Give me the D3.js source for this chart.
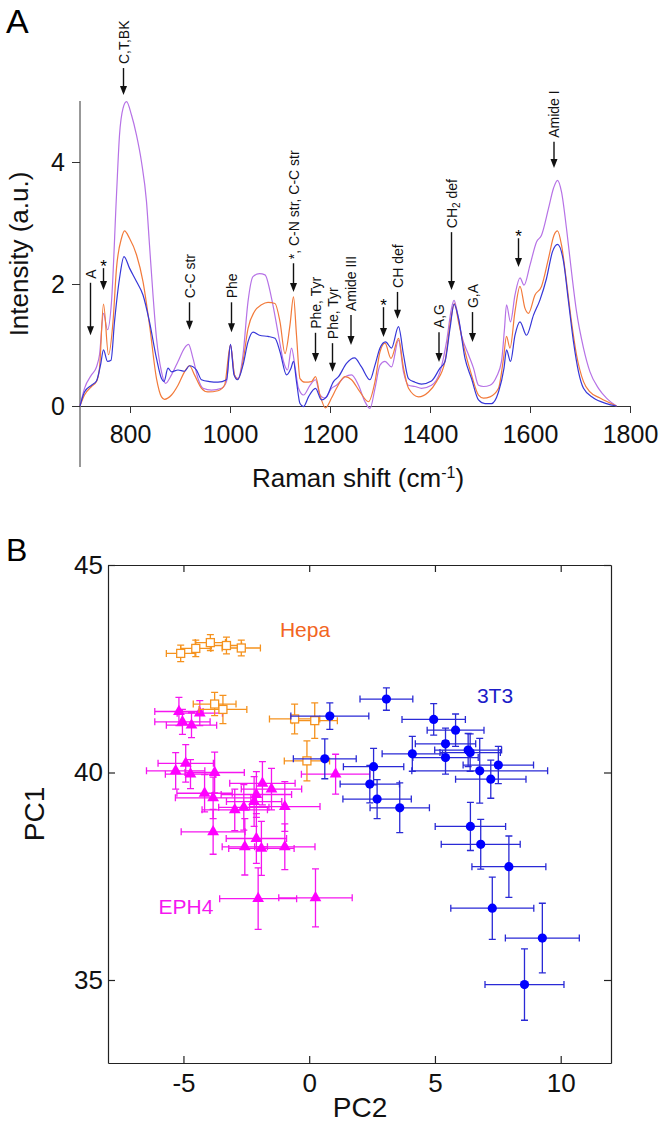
<!DOCTYPE html>
<html><head><meta charset="utf-8">
<script src="https://cdn.jsdelivr.net/npm/d3@7"></script>
<style>body{margin:0;background:#fff}svg{display:block;font-family:"Liberation Sans",Arial,sans-serif}</style>
</head><body><svg id="c" width="661" height="1123"></svg>
<script>
// ---------- Panel A data ----------
const wnPurple = [700,709,723,733,739,747,755,763,773,779,786,793,803,813,823,833,839,846,853,863,871,883,896,909,917,926,936,946,963,983,993,1001,1009,1016,1026,1036,1046,1059,1070,1083,1097,1107,1115,1123,1131,1137,1147,1160,1171,1180,1190,1203,1213,1230,1243,1257,1270,1280,1290,1300,1310,1323,1337,1347,1357,1370,1383,1403,1420,1433,1443,1448,1453,1463,1477,1487,1497,1507,1520,1533,1543,1549,1553,1561,1570,1580,1588,1600,1613,1623,1637,1647,1655,1663,1673,1683,1693,1707,1720,1737,1753,1773];
const intPurple = [0,0.29,0.51,0.64,0.84,1.52,1.25,1.71,3.46,4.44,4.88,4.99,4.77,4.44,4.0,3.35,2.64,1.82,1.11,0.56,0.37,0.51,0.73,0.95,1.01,0.78,0.45,0.29,0.26,0.29,0.40,1.0,0.51,0.45,0.84,1.71,2.12,2.17,2.15,1.77,1.16,0.73,0.59,0.95,0.59,0.29,0.18,0.34,0.43,0.18,0.13,0.29,0.34,0.48,0.51,0.34,0.07,-0.04,0.29,0.67,0.73,0.64,1.08,0.56,0.34,0.32,0.29,0.34,0.56,1.05,1.60,1.73,1.60,1.16,0.84,0.62,0.34,0.32,0.34,0.48,0.73,1.27,1.66,1.38,1.82,2.10,1.98,2.31,2.69,2.80,3.24,3.57,3.70,3.51,2.91,2.20,1.55,0.95,0.56,0.29,0.13,0];

const wnOrange = [700,709,723,733,739,747,757,766,773,783,789,799,813,826,839,853,863,869,883,896,909,919,929,943,956,976,989,1001,1009,1016,1026,1036,1049,1063,1076,1090,1100,1110,1120,1127,1133,1140,1150,1163,1171,1180,1191,1203,1213,1230,1243,1260,1277,1290,1300,1310,1322,1337,1347,1357,1377,1397,1413,1430,1442,1449,1457,1470,1483,1497,1507,1520,1537,1547,1553,1560,1570,1580,1590,1597,1610,1623,1637,1648,1655,1663,1673,1683,1693,1707,1720,1740,1773];
const intOrange = [0,0.18,0.32,0.40,0.62,1.67,0.84,1.38,2.26,2.75,2.87,2.75,2.48,2.04,1.33,0.45,0.15,0.11,0.18,0.34,0.56,0.66,0.51,0.29,0.23,0.25,0.34,1.0,0.51,0.44,0.73,1.27,1.55,1.66,1.70,1.68,1.38,0.86,1.33,1.79,1.16,0.45,0.39,0.40,0.48,0.18,-0.03,0.13,0.29,0.48,0.43,0.23,0.07,0.40,0.89,1.03,0.78,1.11,0.62,0.29,0.15,0.23,0.40,0.73,1.44,1.68,1.38,0.89,0.51,0.18,0.13,0.15,0.29,0.78,1.14,0.95,1.55,1.96,1.60,1.52,1.82,1.96,2.42,2.80,2.87,2.64,2.04,1.38,0.84,0.40,0.23,0.13,0];

const wnBlue = [700,709,723,733,741,747,755,762,769,779,788,799,813,826,839,853,863,868,876,883,896,909,919,933,943,959,976,993,1001,1008,1015,1026,1036,1046,1059,1076,1090,1100,1113,1122,1127,1133,1140,1147,1157,1171,1183,1193,1207,1217,1233,1249,1263,1280,1290,1300,1311,1323,1337,1347,1357,1370,1383,1403,1420,1430,1440,1448,1457,1470,1483,1497,1510,1523,1537,1548,1553,1561,1570,1580,1593,1607,1620,1633,1645,1655,1667,1677,1687,1697,1707,1727,1753,1773];
const intBlue = [0,0.23,0.34,0.41,0.67,0.92,0.73,0.75,1.38,2.09,2.45,2.26,2.04,1.82,1.38,0.78,0.45,0.40,0.62,0.56,0.59,0.57,0.66,0.59,0.43,0.40,0.39,0.43,1.01,0.51,0.43,0.67,1.05,1.21,1.16,1.14,1.11,0.89,0.51,0.62,0.73,0.40,0.04,-0.01,0.15,0.29,0.10,0.15,0.40,0.48,0.70,0.79,0.64,0.43,0.67,0.95,1.05,0.95,1.30,0.84,0.45,0.39,0.36,0.41,0.62,0.73,1.27,1.67,1.44,0.78,0.45,0.10,0.04,0.04,0.23,0.62,0.92,0.73,1.16,1.38,1.16,1.49,1.74,2.09,2.53,2.65,2.37,1.71,1.05,0.56,0.29,0.13,0.04,0];

const xTicksA = [800,1000,1200,1400,1600,1800];
const yTicksA = [0,2,4];

const annoText = ["A","*","C,T,BK","C-C str","Phe","*, C-N str, C-C str","Phe, Tyr","Phe, Tyr","Amide III","*","CH def","A,G","CH2 def","G,A","*","Amide I"];
const annoWn   = [721,747,787,919,1003,1127,1171,1205,1242,1307,1335,1418,1443,1485,1577,1648];
const annoTip  = [1.16,1.90,5.10,1.25,1.21,1.87,0.72,0.56,1.00,1.13,1.43,0.72,1.90,1.05,2.28,3.90];
const annoTop  = [2.02,2.26,5.54,1.70,1.70,2.34,1.20,1.03,1.49,1.62,1.87,1.21,2.85,1.54,2.75,4.33];

// ---------- Panel B data ----------
const hepaPC2 = [-5.11,-4.51,-3.93,-3.29,-2.70,-3.76,-3.43,-0.58,0.22,-0.09];
const hepaPC1 = [42.87,42.99,43.13,43.06,43.00,41.65,41.52,41.29,41.25,40.28];
const hepaErrX = [0.57,0.6,0.6,0.6,0.76,0.85,0.95,1.0,0.9,0.9];
const hepaErrY = [0.2,0.2,0.19,0.2,0.19,0.28,0.34,0.36,0.43,0.48];

const ephPC2 = [-5.18,-4.35,-5.04,-4.68,-4.91,-5.31,-4.72,-3.76,-4.16,-3.82,-3.82,-1.86,-1.50,-2.10,-2.19,-2.60,-2.96,-0.97,-2.10,-2.56,-1.90,-0.97,1.05,-2.03,0.25];
const ephPC1 = [41.47,41.43,41.22,41.14,40.22,40.04,39.96,40.00,39.50,39.39,38.57,39.74,39.60,39.47,39.30,39.16,39.10,39.18,38.41,38.21,38.17,38.21,39.96,36.96,36.98];
const ephErrX = [0.96,0.9,1.1,1.0,1.1,1.16,1.0,1.18,1.1,1.5,1.27,1.3,1.2,1.4,1.1,1.0,1.3,1.4,1.2,0.9,1.3,1.2,1.36,1.53,1.46];
const ephErrY = [0.34,0.3,0.3,0.3,0.45,0.44,0.35,0.49,0.45,0.5,0.54,0.52,0.5,0.55,0.6,0.55,0.5,0.6,0.6,0.68,0.65,0.55,0.48,0.74,0.7];

const t3PC2 = [0.82,3.07,4.95,5.82,5.42,5.42,6.32,6.40,4.10,7.52,6.78,7.22,2.56,2.41,2.70,3.60,0.62,6.41,6.82,7.94,7.28,9.27,8.56];
const t3PC1 = [41.36,41.77,41.28,41.02,40.69,40.36,40.54,40.48,40.45,40.18,40.04,39.84,40.14,39.72,39.36,39.15,40.33,38.70,38.27,37.73,36.73,36.01,34.89];
const t3ErrX = [1.55,1.05,1.26,1.13,1.2,1.3,1.33,1.2,1.2,1.4,2.7,1.4,1.2,1.18,1.36,1.18,1.25,1.4,1.57,1.47,1.65,1.47,1.57];
const t3ErrY = [0.32,0.27,0.38,0.39,0.38,0.4,0.4,0.45,0.42,0.45,0.78,0.46,0.44,0.45,0.47,0.6,0.48,0.58,0.6,0.74,0.75,0.84,0.86];

const xTicksB = [-5,0,5,10];
const yTicksB = [35,40,45];

// ---------- Drawing ----------
const FONT = "Liberation Sans, Arial, sans-serif";
const svg = d3.select("#c");
svg.append("rect").attr("width",661).attr("height",1123).attr("fill","#fff");

// Panel A
const xs = d3.scaleLinear().domain([700,1800]).range([80,630]);
const ys = d3.scaleLinear().domain([0,5]).range([406,101]);

svg.append("text").attr("x",6).attr("y",33).attr("font-size",34).text("A");

const gA = svg.append("g");
const xAx = gA.append("g").attr("transform",`translate(0,${ys(0)})`)
  .call(d3.axisBottom(xs).tickValues(xTicksA).tickSize(7).tickSizeOuter(0).tickPadding(12).tickFormat(d=>String(d)));
const yAx = gA.append("g").attr("transform",`translate(${xs(700)},0)`)
  .call(d3.axisLeft(ys).tickValues(yTicksA).tickSize(8).tickPadding(7).tickFormat(d=>String(d)));
yAx.select(".domain").remove();
gA.append("line").attr("x1",xs(700)).attr("x2",xs(700)).attr("y1",ys(-1)).attr("y2",ys(5)).attr("stroke","#333").attr("stroke-width",1);
[xAx,yAx].forEach(a=>{
  a.selectAll("text").attr("font-size",25).attr("font-family",FONT).attr("fill","#111");
  a.selectAll("line,path").attr("stroke","#333");
});

const line = d3.line().x(d=>xs(d[0])).y(d=>ys(d[1])).curve(d3.curveMonotoneX);
const spectra = [
  {wn:wnPurple, v:intPurple, c:"#b672e6"},
  {wn:wnOrange, v:intOrange, c:"#f27a3a"},
  {wn:wnBlue, v:intBlue, c:"#3636d8"}
];
spectra.forEach(s=>{
  gA.append("path").datum(s.wn.map((w,i)=>[w,s.v[i]])).attr("d",line)
    .attr("fill","none").attr("stroke",s.c).attr("stroke-width",1.2);
});

// annotations
annoText.forEach((t,i)=>{
  const x = xs(annoWn[i]), yt = ys(annoTip[i]), y0 = ys(annoTop[i]);
  gA.append("line").attr("x1",x).attr("x2",x).attr("y1",y0).attr("y2",yt-6).attr("stroke","#111").attr("stroke-width",1.4);
  gA.append("path").attr("d",`M${x},${yt}L${x-3.5},${yt-9}L${x+3.5},${yt-9}Z`).attr("fill","#111");
  if (t === "*") {
    gA.append("text").attr("x",x).attr("y",y0+4).attr("text-anchor","middle").attr("font-size",17).text("*");
  } else {
    const tx = gA.append("text").attr("transform",`translate(${x},${y0-4}) rotate(-90)`)
      .attr("dy","0.36em").attr("font-size",14).attr("fill","#111");
    if (t === "CH2 def") {
      tx.append("tspan").text("CH");
      tx.append("tspan").attr("font-size",10).attr("dy","3").text("2");
      tx.append("tspan").attr("dy","-3").text(" def");
    } else tx.text(t);
  }
});

gA.append("text").attr("transform",`translate(28,254) rotate(-90)`).attr("text-anchor","middle")
  .attr("font-size",26).attr("fill","#111").text("Intensity (a.u.)");
const xl = gA.append("text").attr("x",358).attr("y",487).attr("text-anchor","middle").attr("font-size",26).attr("fill","#111");
xl.append("tspan").text("Raman shift (cm");
xl.append("tspan").attr("font-size",16).attr("dy","-9").text("-1");
xl.append("tspan").attr("dy","9").text(")");

// Panel B
const px = d3.scaleLinear().domain([-8,12]).range([108,611]);
const py = d3.scaleLinear().domain([33,45]).range([1063,565]);

svg.append("text").attr("x",6).attr("y",561).attr("font-size",32).text("B");

const gB = svg.append("g");
const axB = [
  gB.append("g").attr("transform",`translate(0,${py(33)})`).call(d3.axisBottom(px).tickValues(xTicksB).tickSize(-7).tickSizeOuter(0).tickPadding(11).tickFormat(d=>String(d))),
  gB.append("g").attr("transform",`translate(0,${py(45)})`).call(d3.axisTop(px).tickValues(xTicksB).tickSize(-7).tickSizeOuter(0).tickFormat("")),
  gB.append("g").attr("transform",`translate(${px(-8)},0)`).call(d3.axisLeft(py).tickValues(yTicksB).tickSize(-7).tickSizeOuter(0).tickPadding(5).tickFormat(d=>String(d))),
  gB.append("g").attr("transform",`translate(${px(12)},0)`).call(d3.axisRight(py).tickValues(yTicksB).tickSize(-7).tickSizeOuter(0).tickFormat(""))
];
axB.forEach((a,i)=>{
  a.selectAll("text").attr("font-size",26).attr("font-family",FONT).attr("fill","#111");
  a.selectAll("line,path").attr("stroke","#222").attr("stroke-width",1.2);
});

function errBars(g, xa, ya, exa, eya, color) {
  xa.forEach((x,i)=>{
    const cx = px(x), cy = py(ya[i]);
    const x0 = px(x-exa[i]), x1 = px(x+exa[i]), y0 = py(ya[i]-eya[i]), y1 = py(ya[i]+eya[i]);
    const c = 3.5;
    g.append("path").attr("d",
      `M${x0},${cy}H${x1}M${x0},${cy-c}V${cy+c}M${x1},${cy-c}V${cy+c}M${cx},${y0}V${y1}M${cx-c},${y0}H${cx+c}M${cx-c},${y1}H${cx+c}`)
      .attr("fill","none").attr("stroke",color).attr("stroke-width",1.3);
  });
}

const gE = gB.append("g");
errBars(gE, ephPC2, ephPC1, ephErrX, ephErrY, "#f516f0");
gE.selectAll(".tri").data(ephPC2).join("path").attr("class","tri")
  .attr("transform",(d,i)=>`translate(${px(d)},${py(ephPC1[i])})`)
  .attr("d",d3.symbol(d3.symbolTriangle,60)).attr("fill","#ff00ff");

const gH = gB.append("g");
errBars(gH, hepaPC2, hepaPC1, hepaErrX, hepaErrY, "#f5921e");
gH.selectAll(".sq").data(hepaPC2).join("rect").attr("class","sq")
  .attr("x",d=>px(d)-4).attr("y",(d,i)=>py(hepaPC1[i])-4).attr("width",8).attr("height",8)
  .attr("fill","#fff").attr("stroke","#f5921e").attr("stroke-width",1.3);

const gT = gB.append("g");
errBars(gT, t3PC2, t3PC1, t3ErrX, t3ErrY, "#2a2ad6");
gT.selectAll(".ci").data(t3PC2).join("circle").attr("class","ci")
  .attr("cx",d=>px(d)).attr("cy",(d,i)=>py(t3PC1[i])).attr("r",4.6).attr("fill","#0000ff");

gB.append("text").attr("x",305).attr("y",637).attr("text-anchor","middle").attr("font-size",21).attr("fill","#f26522").text("Hepa");
gB.append("text").attr("x",495).attr("y",703).attr("text-anchor","middle").attr("font-size",21).attr("fill","#1c1cc8").text("3T3");
gB.append("text").attr("x",186).attr("y",914).attr("text-anchor","middle").attr("font-size",21).attr("fill","#f516f0").text("EPH4");

gB.append("text").attr("transform",`translate(44,814) rotate(-90)`).attr("text-anchor","middle")
  .attr("font-size",28).attr("fill","#111").text("PC1");
gB.append("text").attr("x",360).attr("y",1117).attr("text-anchor","middle")
  .attr("font-size",28).attr("fill","#111").text("PC2");
</script></body></html>
